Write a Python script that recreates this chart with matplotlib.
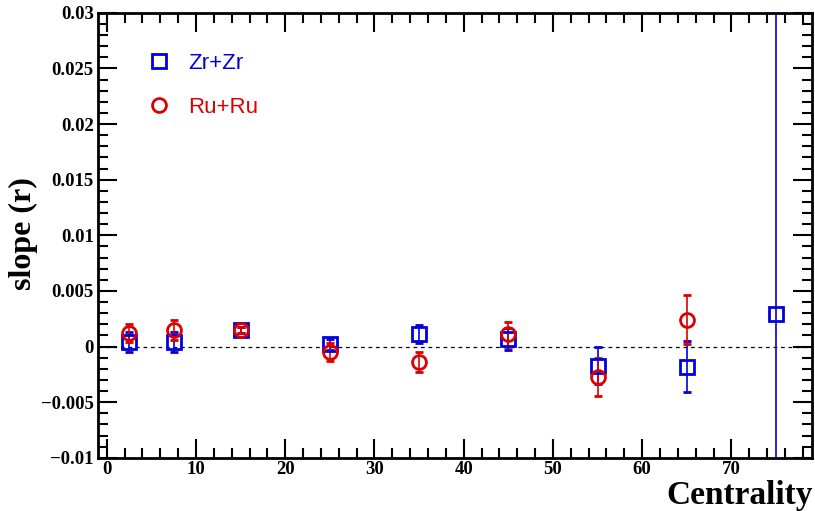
import matplotlib
matplotlib.use("Agg")
import matplotlib.pyplot as plt
from matplotlib.lines import Line2D
from matplotlib.ticker import MultipleLocator, FuncFormatter

# centrality bins
cent_zr = [2.5, 7.5, 15, 25, 35, 45, 55, 65, 75]
slope_zr = [0.0004, 0.0004, 0.0015, 0.0002, 0.0011, 0.0007, -0.0017, -0.0018, 0.0029]
err_zr = [0.0009, 0.0009, 0.0003, 0.0005, 0.0008, 0.001, 0.0017, 0.0023, 0.05]

cent_ru = [2.5, 7.5, 15, 25, 35, 45, 55, 65]
slope_ru = [0.0012, 0.0015, 0.0015, -0.0005, -0.0014, 0.0011, -0.0027, 0.0024]
err_ru = [0.0008, 0.0009, 0.0003, 0.0008, 0.0009, 0.0011, 0.0017, 0.0022]

blue = "#0000dd"
red = "#dd0000"

plt.rcParams["font.family"] = "Liberation Serif"
plt.rcParams["font.weight"] = "bold"

fig = plt.figure(figsize=(8.15, 5.11), dpi=100)
ax = fig.add_axes([0.120, 0.104, 0.876, 0.871])

ax.axhline(0, color="black", linestyle=(0, (3, 3)), linewidth=0.9)

ax.errorbar(cent_zr, slope_zr, yerr=err_zr, fmt="s", color=blue,
            mfc="none", mec=blue, ms=10, mew=2, elinewidth=1.2, capsize=3)
ax.errorbar(cent_ru, slope_ru, yerr=err_ru, fmt="o", color=red,
            mfc="none", mec=red, ms=10, mew=2, elinewidth=1.2, capsize=3)

ax.set_xlim(-1, 79)
ax.set_ylim(-0.01, 0.03)

ax.xaxis.set_major_locator(MultipleLocator(10))
ax.xaxis.set_minor_locator(MultipleLocator(2))
ax.yaxis.set_major_locator(MultipleLocator(0.005))
ax.yaxis.set_minor_locator(MultipleLocator(0.001))
ax.tick_params(which="both", direction="in", top=True, right=True, width=1.5,
               labelsize=13.5)
ax.tick_params(which="major", length=14)
ax.tick_params(which="minor", length=7)
ax.tick_params(axis="x", which="major", pad=2)
ax.tick_params(axis="y", which="major", pad=3)

ax.yaxis.set_major_formatter(FuncFormatter(
    lambda v, p: "0" if abs(v) < 1e-12 else ("%g" % v).replace("-", "\u2212")))

for s in ax.spines.values():
    s.set_linewidth(2)

ax.set_ylabel("slope (r)", fontweight="bold", fontsize=23)
ax.yaxis.set_label_coords(-0.084, 0.503)
fig.text(0.997, 0.014, "Centrality", ha="right", va="baseline",
         fontweight="bold", fontsize=24)

handles = [
    Line2D([], [], ls="none", marker="s", ms=10, mew=2, mfc="none", mec=blue),
    Line2D([], [], ls="none", marker="o", ms=10, mew=2, mfc="none", mec=red),
]
leg = ax.legend(handles, ["Zr+Zr", "Ru+Ru"], loc="upper left",
                bbox_to_anchor=(0.035, 0.955), frameon=False,
                prop={"family": "Liberation Sans", "size": 16, "weight": "normal"},
                handletextpad=0.55, labelspacing=1.05, handlelength=1.5)
for txt, c in zip(leg.get_texts(), [blue, red]):
    txt.set_color(c)

fig.savefig("out.png", dpi=100)
